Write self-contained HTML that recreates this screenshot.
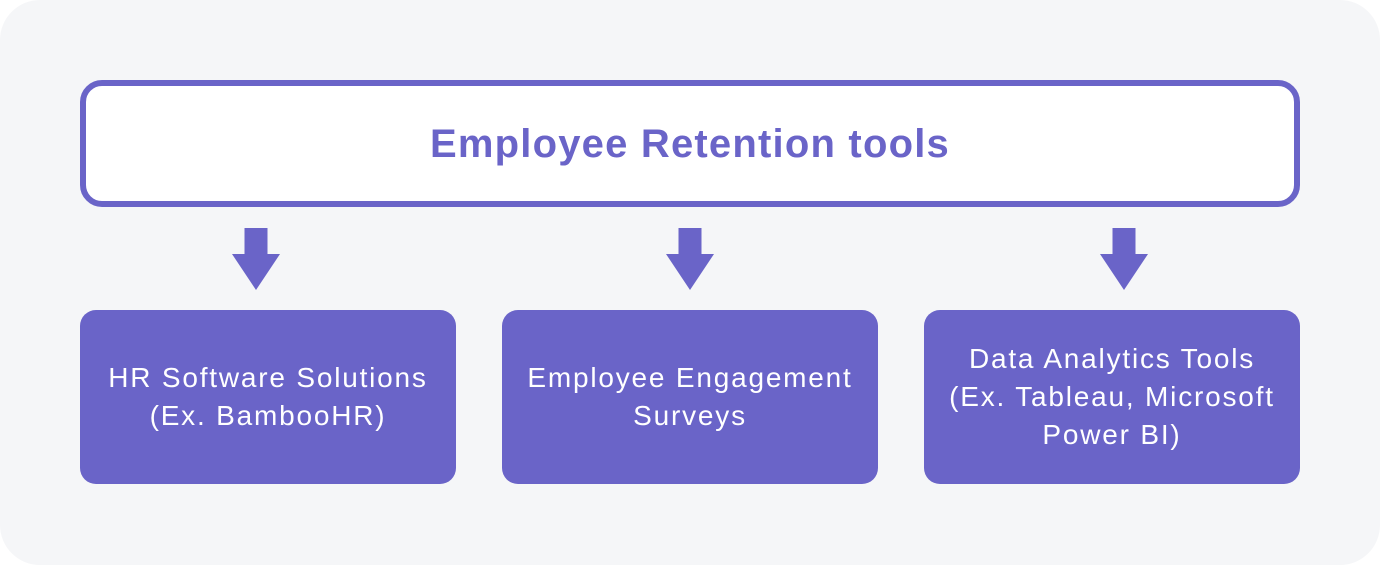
<!DOCTYPE html>
<html>
<head>
<meta charset="utf-8">
<style>
  html, body { margin:0; padding:0; background:#ffffff; }
  body { width:1380px; height:565px; position:relative; overflow:hidden; }
  .bg { position:absolute; left:0; top:0; width:1380px; height:565px; background:#f5f6f8; border-radius:40px; }
  .top { position:absolute; left:80px; top:80px; width:1220px; height:127px; box-sizing:border-box; border:6px solid #6a64c8; border-radius:22px; background:#ffffff;
         display:flex; align-items:center; justify-content:center; }
  .top span { font-family:"Liberation Sans", sans-serif; font-weight:bold; font-size:40px; letter-spacing:1.2px; color:#6a64c8; position:relative; top:1px; }
  .box { position:absolute; top:310px; width:376px; height:174px; background:#6a64c8; border-radius:16px;
         display:flex; align-items:center; justify-content:center; text-align:center;
         font-family:"Liberation Sans", sans-serif; font-size:28px; letter-spacing:1.8px; line-height:38px; color:#ffffff; }
  .arrow { position:absolute; top:228px; width:48px; height:62px; }
</style>
</head>
<body>
  <div class="bg"></div>
  <div class="top"><span>Employee Retention tools</span></div>

  <svg class="arrow" style="left:232px" viewBox="0 0 48 62"><polygon points="12.5,0 35.5,0 35.5,26 48,26 24,62 0,26 12.5,26" fill="#6a64c8"/></svg>
  <svg class="arrow" style="left:666px" viewBox="0 0 48 62"><polygon points="12.5,0 35.5,0 35.5,26 48,26 24,62 0,26 12.5,26" fill="#6a64c8"/></svg>
  <svg class="arrow" style="left:1100px" viewBox="0 0 48 62"><polygon points="12.5,0 35.5,0 35.5,26 48,26 24,62 0,26 12.5,26" fill="#6a64c8"/></svg>

  <div class="box" style="left:80px"><div>HR Software Solutions<br>(Ex. BambooHR)</div></div>
  <div class="box" style="left:502px"><div>Employee Engagement<br>Surveys</div></div>
  <div class="box" style="left:924px"><div>Data Analytics Tools<br>(Ex. Tableau, Microsoft<br>Power BI)</div></div>
</body>
</html>
